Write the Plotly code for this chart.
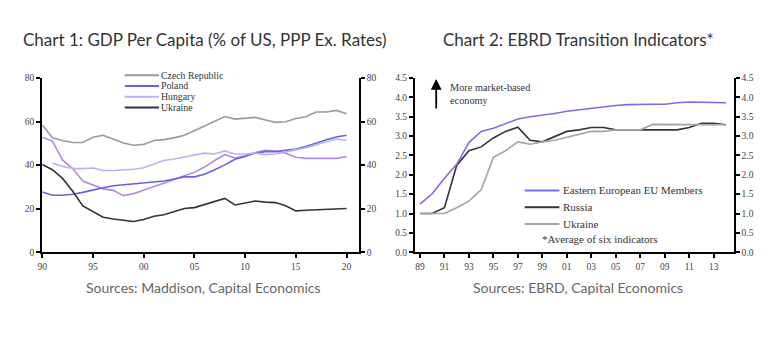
import plotly.graph_objects as go

# ---------------- Data: Chart 1 ----------------
years1 = list(range(1990, 2021))
czech = [58.4, 52.5, 51.3, 50.4, 50.4, 52.8, 53.7, 51.9, 50.1, 49.1, 49.5, 51.3, 51.7, 52.5, 53.7,
         55.8, 58.0, 60.2, 62.3, 61.1, 61.4, 61.9, 60.7, 59.6, 59.9, 61.4, 62.2, 64.4, 64.4, 65.1, 63.6]
poland = [27.7, 26.2, 26.2, 26.6, 27.5, 28.7, 29.6, 30.5, 30.9, 31.4, 32.0, 32.3, 32.7, 33.6, 34.6,
          34.6, 35.8, 37.9, 40.1, 42.7, 43.9, 45.5, 46.2, 46.2, 46.8, 47.4, 48.5, 50.1, 51.6, 52.9, 53.7]
years_hu = list(range(1991, 2021))
hungary = [41.0, 39.4, 38.5, 38.4, 38.7, 37.5, 37.5, 37.8, 38.1, 38.8, 40.3, 42.1, 42.8, 43.7,
           44.3, 45.5, 45.1, 46.5, 45.1, 45.1, 45.5, 44.8, 45.1, 46.2, 47.0, 48.0, 49.5, 50.7, 52.0, 51.3]
other = [52.8, 51.0, 42.4, 38.4, 32.7, 30.9, 29.1, 28.4, 26.0, 26.9, 28.7, 30.2, 31.7, 33.5, 35.1,
         36.7, 39.1, 42.1, 44.8, 43.3, 44.3, 45.8, 46.8, 46.5, 45.4, 43.6, 43.1, 43.1, 43.1, 43.1, 43.9]
ukraine1 = [40.3, 37.9, 33.9, 28.0, 21.3, 18.6, 16.1, 15.3, 14.6, 14.1, 15.0, 16.5, 17.2, 18.6, 20.1,
            20.5, 22.0, 23.5, 24.7, 21.7, 22.5, 23.5, 23.0, 22.8, 21.3, 19.0, 19.3, 19.5, 19.8, 20.1, 20.1]
names1 = ["Czech Republic", "Poland", "Hungary", "Ukraine"]
colors1 = ["#9a9a9a", "#6464e4", "#b4b4f6", "#333333"]
other_color = "#b489e6"
ticks1 = [1990, 1995, 2000, 2005, 2010, 2015, 2020]
ticklabels1 = ["90", "95", "00", "05", "10", "15", "20"]
yticks1 = [0, 20, 40, 60, 80]

# ---------------- Data: Chart 2 ----------------
years2 = list(range(1989, 2015))
eu = [1.24, 1.51, 1.91, 2.27, 2.83, 3.12, 3.20, 3.33, 3.44, 3.50, 3.54, 3.58, 3.64, 3.68, 3.71,
      3.75, 3.79, 3.81, 3.82, 3.82, 3.82, 3.86, 3.88, 3.87, 3.86, 3.86]
russia = [1.0, 1.0, 1.15, 2.24, 2.62, 2.72, 2.95, 3.12, 3.23, 2.89, 2.85, 2.99, 3.12, 3.16, 3.22,
          3.22, 3.16, 3.16, 3.16, 3.16, 3.16, 3.16, 3.22, 3.33, 3.33, 3.29]
ukraine2 = [1.0, 1.0, 1.0, 1.15, 1.32, 1.61, 2.45, 2.62, 2.85, 2.79, 2.85, 2.89, 2.97, 3.05, 3.12,
            3.12, 3.16, 3.16, 3.16, 3.30, 3.30, 3.30, 3.30, 3.29, 3.29, 3.29]
names2 = ["Eastern European EU Members", "Russia", "Ukraine"]
colors2 = ["#7272e6", "#333333", "#a4a4a4"]
ticks2 = list(range(1989, 2015, 2))
ticklabels2 = ["89", "91", "93", "95", "97", "99", "01", "03", "05", "07", "09", "11", "13"]
yticks2 = [0.0, 0.5, 1.0, 1.5, 2.0, 2.5, 3.0, 3.5, 4.0, 4.5]

W, H = 778, 362
def px(x):
    return x / W
def py(y):
    return 1 - y / H

TICKFONT = dict(family="Liberation Serif", size=9.5, color="#444444")
LEGFONT1 = dict(family="Liberation Serif", size=9.8, color="#333333")
LEGFONT2 = dict(family="Liberation Serif", size=11, color="#333333")

fig = go.Figure()
lw = 1.6
series1 = [czech, poland, hungary, ukraine1]
xs1 = [years1, years1, years_hu, years1]
fig.add_trace(go.Scatter(x=years1, y=other, mode="lines", line=dict(color=other_color, width=lw),
                         showlegend=False, hoverinfo="skip", xaxis="x", yaxis="y"))
for i, (xx, yy) in enumerate(zip(xs1, series1)):
    fig.add_trace(go.Scatter(x=xx, y=yy, mode="lines", name=names1[i],
                             line=dict(color=colors1[i], width=lw), showlegend=False,
                             xaxis="x", yaxis="y3" if i == 3 else "y"))
series2 = [eu, russia, ukraine2]
for i, yy in enumerate(series2):
    fig.add_trace(go.Scatter(x=years2, y=yy, mode="lines", name=names2[i],
                             line=dict(color=colors2[i], width=lw), showlegend=False,
                             xaxis="x2", yaxis="y4" if i == 0 else "y2"))

ydom = [py(254.3), py(75)]
axcommon = dict(showline=True, linecolor="black", linewidth=2.2, ticks="outside", ticklen=4,
                tickwidth=1.5, tickcolor="black", showgrid=False, zeroline=False,
                tickfont=TICKFONT, fixedrange=True)

fig.update_layout(
    width=W, height=H, margin=dict(l=0, r=0, t=0, b=0),
    paper_bgcolor="white", plot_bgcolor="white", showlegend=False,
    xaxis=dict(domain=[px(37.5), px(356)], anchor="y", range=[1990, 2021.2],
               tickvals=ticks1, ticktext=ticklabels1, **axcommon),
    yaxis=dict(domain=ydom, anchor="x", range=[0, 80], tickvals=yticks1, **axcommon),
    yaxis3=dict(overlaying="y", side="right", anchor="x", range=[0, 80], tickvals=yticks1, **axcommon),
    xaxis2=dict(domain=[px(412.7), px(733.3)], anchor="y2", range=[1988.6, 2014.62],
                tickvals=ticks2, ticktext=ticklabels2, **axcommon),
    yaxis2=dict(domain=ydom, anchor="x2", range=[0, 4.5], tickvals=yticks2, tickformat=".1f", **axcommon),
    yaxis4=dict(overlaying="y2", side="right", anchor="x2", range=[0, 4.5], tickvals=yticks2,
                tickformat=".1f", **axcommon),
)

shapes = []
ann = []
# Chart 1 legend
for i, n in enumerate(names1):
    yy = 72.3 + i * 11.0
    shapes.append(dict(type="line", xref="paper", yref="paper", x0=px(120.5), x1=px(155),
                       y0=py(yy), y1=py(yy), line=dict(color=colors1[i], width=2)))
    ann.append(dict(xref="paper", yref="paper", x=px(156), y=py(yy), text=n, showarrow=False,
                    xanchor="left", yanchor="middle", borderpad=0, font=LEGFONT1))
# Chart 2 legend
for i, n in enumerate(names2):
    yy = 190.7 + i * 17.2
    shapes.append(dict(type="line", xref="paper", yref="paper", x0=px(523), x1=px(558),
                       y0=py(yy), y1=py(yy), line=dict(color=colors2[i], width=2)))
    ann.append(dict(xref="paper", yref="paper", x=px(560), y=py(yy), text=n, showarrow=False,
                    xanchor="left", yanchor="middle", font=LEGFONT2))
ann.append(dict(xref="paper", yref="paper", x=px(538), y=py(240.5), text="*Average of six indicators",
                showarrow=False, xanchor="left", yanchor="middle", font=LEGFONT2))
# arrow + text
ann.append(dict(xref="paper", yref="paper", x=px(434), y=py(76), ax=0, ay=31,
                axref="pixel", ayref="pixel", text="", showarrow=True, arrowhead=2,
                arrowsize=1.2, arrowwidth=1.8, arrowcolor="black"))
ann.append(dict(xref="paper", yref="paper", x=px(446), y=py(92), text="More market-based<br>economy",
                showarrow=False, xanchor="left", yanchor="middle", align="left",
                font=dict(family="Liberation Serif", size=10.3, color="#333333")))
# Titles
ann.append(dict(xref="paper", yref="paper", x=px(16), y=py(35), text="Chart 1: GDP Per Capita (% of US, PPP Ex. Rates)",
                showarrow=False, xanchor="left", yanchor="middle",
                font=dict(family="Lato", size=17, color="#333333")))
ann.append(dict(xref="paper", yref="paper", x=px(439), y=py(35), text="Chart 2: EBRD Transition Indicators*",
                showarrow=False, xanchor="left", yanchor="middle",
                font=dict(family="Lato", size=17, color="#333333")))
# Sources
ann.append(dict(xref="paper", yref="paper", x=px(200), y=py(291), text="Sources: Maddison, Capital Economics",
                showarrow=False, xanchor="center", yanchor="middle",
                font=dict(family="Lato", size=14, color="#666666")))
ann.append(dict(xref="paper", yref="paper", x=px(577), y=py(291), text="Sources: EBRD, Capital Economics",
                showarrow=False, xanchor="center", yanchor="middle",
                font=dict(family="Lato", size=14, color="#666666")))

fig.update_layout(shapes=shapes, annotations=ann)
fig.write_html("out.html", config={"displayModeBar": False},
               post_script="document.body.style.margin='0';document.body.style.overflow='hidden';")
